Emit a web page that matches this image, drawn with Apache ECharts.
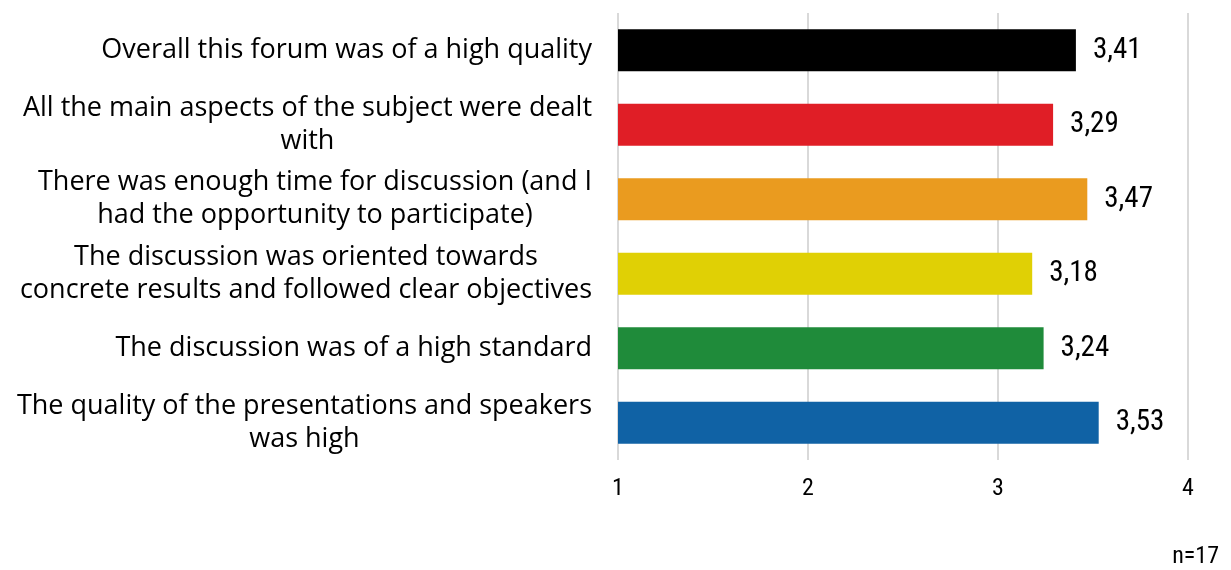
<!DOCTYPE html>
<html><head><meta charset="utf-8">
<script src="https://cdn.jsdelivr.net/npm/echarts@6/dist/echarts.min.js"></script>
<style>html,body{margin:0;padding:0;background:#fff}#c{width:1231px;height:570px}</style>
</head><body><div id="c"></div>
<script>
const categories = [
  "Overall this forum was of a high quality",
  "All the main aspects of the subject were dealt\nwith",
  "There was enough time for discussion (and I\nhad the opportunity to participate)",
  "The discussion was oriented towards\nconcrete results and followed clear objectives",
  "The discussion was of a high standard",
  "The quality of the presentations and speakers\nwas high"
];
const values = [3.41, 3.29, 3.47, 3.18, 3.24, 3.53];
const colors = ["#000000", "#E01E26", "#EA9B1F", "#E0D005", "#1F8B3A", "#1062A5"];
const axisTicks = [1, 2, 3, 4];
const note = "n=17";

const narrow = 'Liberation Sans Narrow, Roboto Condensed, Roboto, sans-serif';
const chart = echarts.init(document.getElementById('c'), null, {renderer: 'canvas'});
chart.setOption({
  animation: false,
  backgroundColor: '#fff',
  grid: {left: 618, right: 43, top: 13, bottom: 110, containLabel: false},
  xAxis: {
    type: 'value', min: axisTicks[0], max: axisTicks[axisTicks.length - 1], interval: 1,
    axisLine: {show: false}, axisTick: {show: false},
    splitLine: {show: true, lineStyle: {color: '#d9d9d9', width: 2}},
    axisLabel: {margin: 17, fontFamily: narrow, fontSize: 24, color: '#000'}
  },
  yAxis: {
    type: 'category', inverse: true, data: categories,
    axisLine: {show: false}, axisTick: {show: false},
    axisLabel: {
      margin: 26, align: 'right',
      formatter: v => v.split('\n').map(s => '{c|' + s + '}').join('\n'),
      rich: {c: {fontFamily: 'Open Sans, sans-serif', fontSize: 27, lineHeight: 33, color: '#000', align: 'center'}}
    }
  },
  series: [{
    type: 'bar', barWidth: 42,
    data: values.map((v, i) => ({value: v, itemStyle: {color: colors[i]}})),
    label: {show: true, position: 'right', distance: 17,
      fontFamily: narrow, fontSize: 29, color: '#000',
      formatter: p => p.value.toFixed(2).replace('.', ',')}
  }],
  graphic: [{type: 'text', right: 12, top: 545, style: {text: note, fontFamily: narrow, fontSize: 24, fill: '#000'}}]
});
</script></body></html>
